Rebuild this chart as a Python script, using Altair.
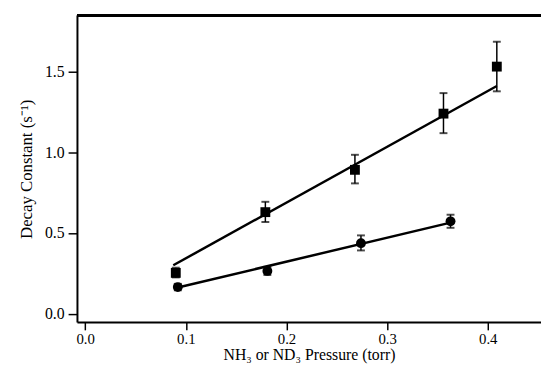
import altair as alt
import pandas as pd

# NH3 (squares)
sq_x = [0.090, 0.179, 0.268, 0.356, 0.409]
sq_y = [0.253, 0.629, 0.891, 1.239, 1.530]
sq_lo = [0.225, 0.568, 0.807, 1.118, 1.377]
sq_hi = [0.285, 0.693, 0.984, 1.366, 1.684]
sq_fit_x = [0.0875, 0.409]
sq_fit_y = [0.300, 1.410]

# ND3 (circles)
ci_x = [0.092, 0.181, 0.274, 0.363]
ci_y = [0.165, 0.265, 0.437, 0.572]
ci_lo = [0.145, 0.240, 0.392, 0.532]
ci_hi = [0.185, 0.290, 0.485, 0.613]
ci_fit_x = [0.091, 0.363]
ci_fit_y = [0.161, 0.564]

x_ticks = [0.0, 0.1, 0.2, 0.3, 0.4]
y_ticks = [0.0, 0.5, 1.0, 1.5]

X_DOM = [-0.0082, 0.4529]
Y_DOM = [-0.051, 1.846]
W, H = 471, 311
FONT = "Liberation Serif"

pts = pd.DataFrame({
    "x": sq_x + ci_x,
    "y": sq_y + ci_y,
    "lo": sq_lo + ci_lo,
    "hi": sq_hi + ci_hi,
    "series": ["NH3"] * len(sq_x) + ["ND3"] * len(ci_x),
})
fits = pd.DataFrame({
    "x": sq_fit_x + ci_fit_x,
    "y": sq_fit_y + ci_fit_y,
    "series": ["NH3"] * 2 + ["ND3"] * 2,
})

xs = alt.Scale(domain=X_DOM, nice=False, zero=False)
ys = alt.Scale(domain=Y_DOM, nice=False, zero=False)

xax = alt.Axis(values=x_ticks, format=".1f", title="NH₃ or ND₃ Pressure (torr)",
               grid=False, tickSize=8, labelPadding=2, titlePadding=0,
               labelFontSize=15, titleFontSize=16)
yax = alt.Axis(values=y_ticks, format=".1f", title="Decay Constant (s⁻¹)",
               grid=False, tickSize=9, labelPadding=4, titlePadding=9)

X = alt.X("x:Q", scale=xs, axis=xax)
Y = alt.Y("y:Q", scale=ys, axis=yax)

lines = alt.Chart(fits).mark_line(color="black", strokeWidth=2.5).encode(
    x=X, y=Y, detail="series:N")

err = alt.Chart(pts).mark_rule(color="black", strokeWidth=1.5).encode(
    x=alt.X("x:Q", scale=xs), y=alt.Y("lo:Q", scale=ys), y2="hi:Q")
cap_lo = alt.Chart(pts).mark_tick(color="black", orient="horizontal", size=8, thickness=2).encode(
    x=alt.X("x:Q", scale=xs), y=alt.Y("lo:Q", scale=ys))
cap_hi = alt.Chart(pts).mark_tick(color="black", orient="horizontal", size=8, thickness=2).encode(
    x=alt.X("x:Q", scale=xs), y=alt.Y("hi:Q", scale=ys))

squares = alt.Chart(pts).transform_filter(alt.datum.series == "NH3").mark_point(
    shape="square", filled=True, color="black", size=100, opacity=1).encode(
    x=alt.X("x:Q", scale=xs), y=alt.Y("y:Q", scale=ys))
circles = alt.Chart(pts).transform_filter(alt.datum.series == "ND3").mark_point(
    shape="circle", filled=True, color="black", size=100, opacity=1).encode(
    x=alt.X("x:Q", scale=xs), y=alt.Y("y:Q", scale=ys))

top = alt.Chart(pts).mark_rule(color="black", strokeWidth=2.5).encode(
    x=alt.value(0), x2=alt.value(W), y=alt.value(0))

chart = alt.layer(lines, err, cap_lo, cap_hi, squares, circles, top).properties(
    width=W, height=H,
    autosize=alt.AutoSizeParams(type="none"),
    padding={"left": 70, "top": 5, "right": 0, "bottom": 42},
).configure_view(stroke=None).configure_axis(
    domainColor="black", domainWidth=2, tickColor="black", tickWidth=1.5,
    labelFont=FONT, labelFontSize=16, labelColor="black",
    titleFont=FONT, titleFontSize=17, titleFontWeight="normal", titleColor="black",
)

chart.save("out.html", embed_options={"renderer": "svg", "actions": False})
